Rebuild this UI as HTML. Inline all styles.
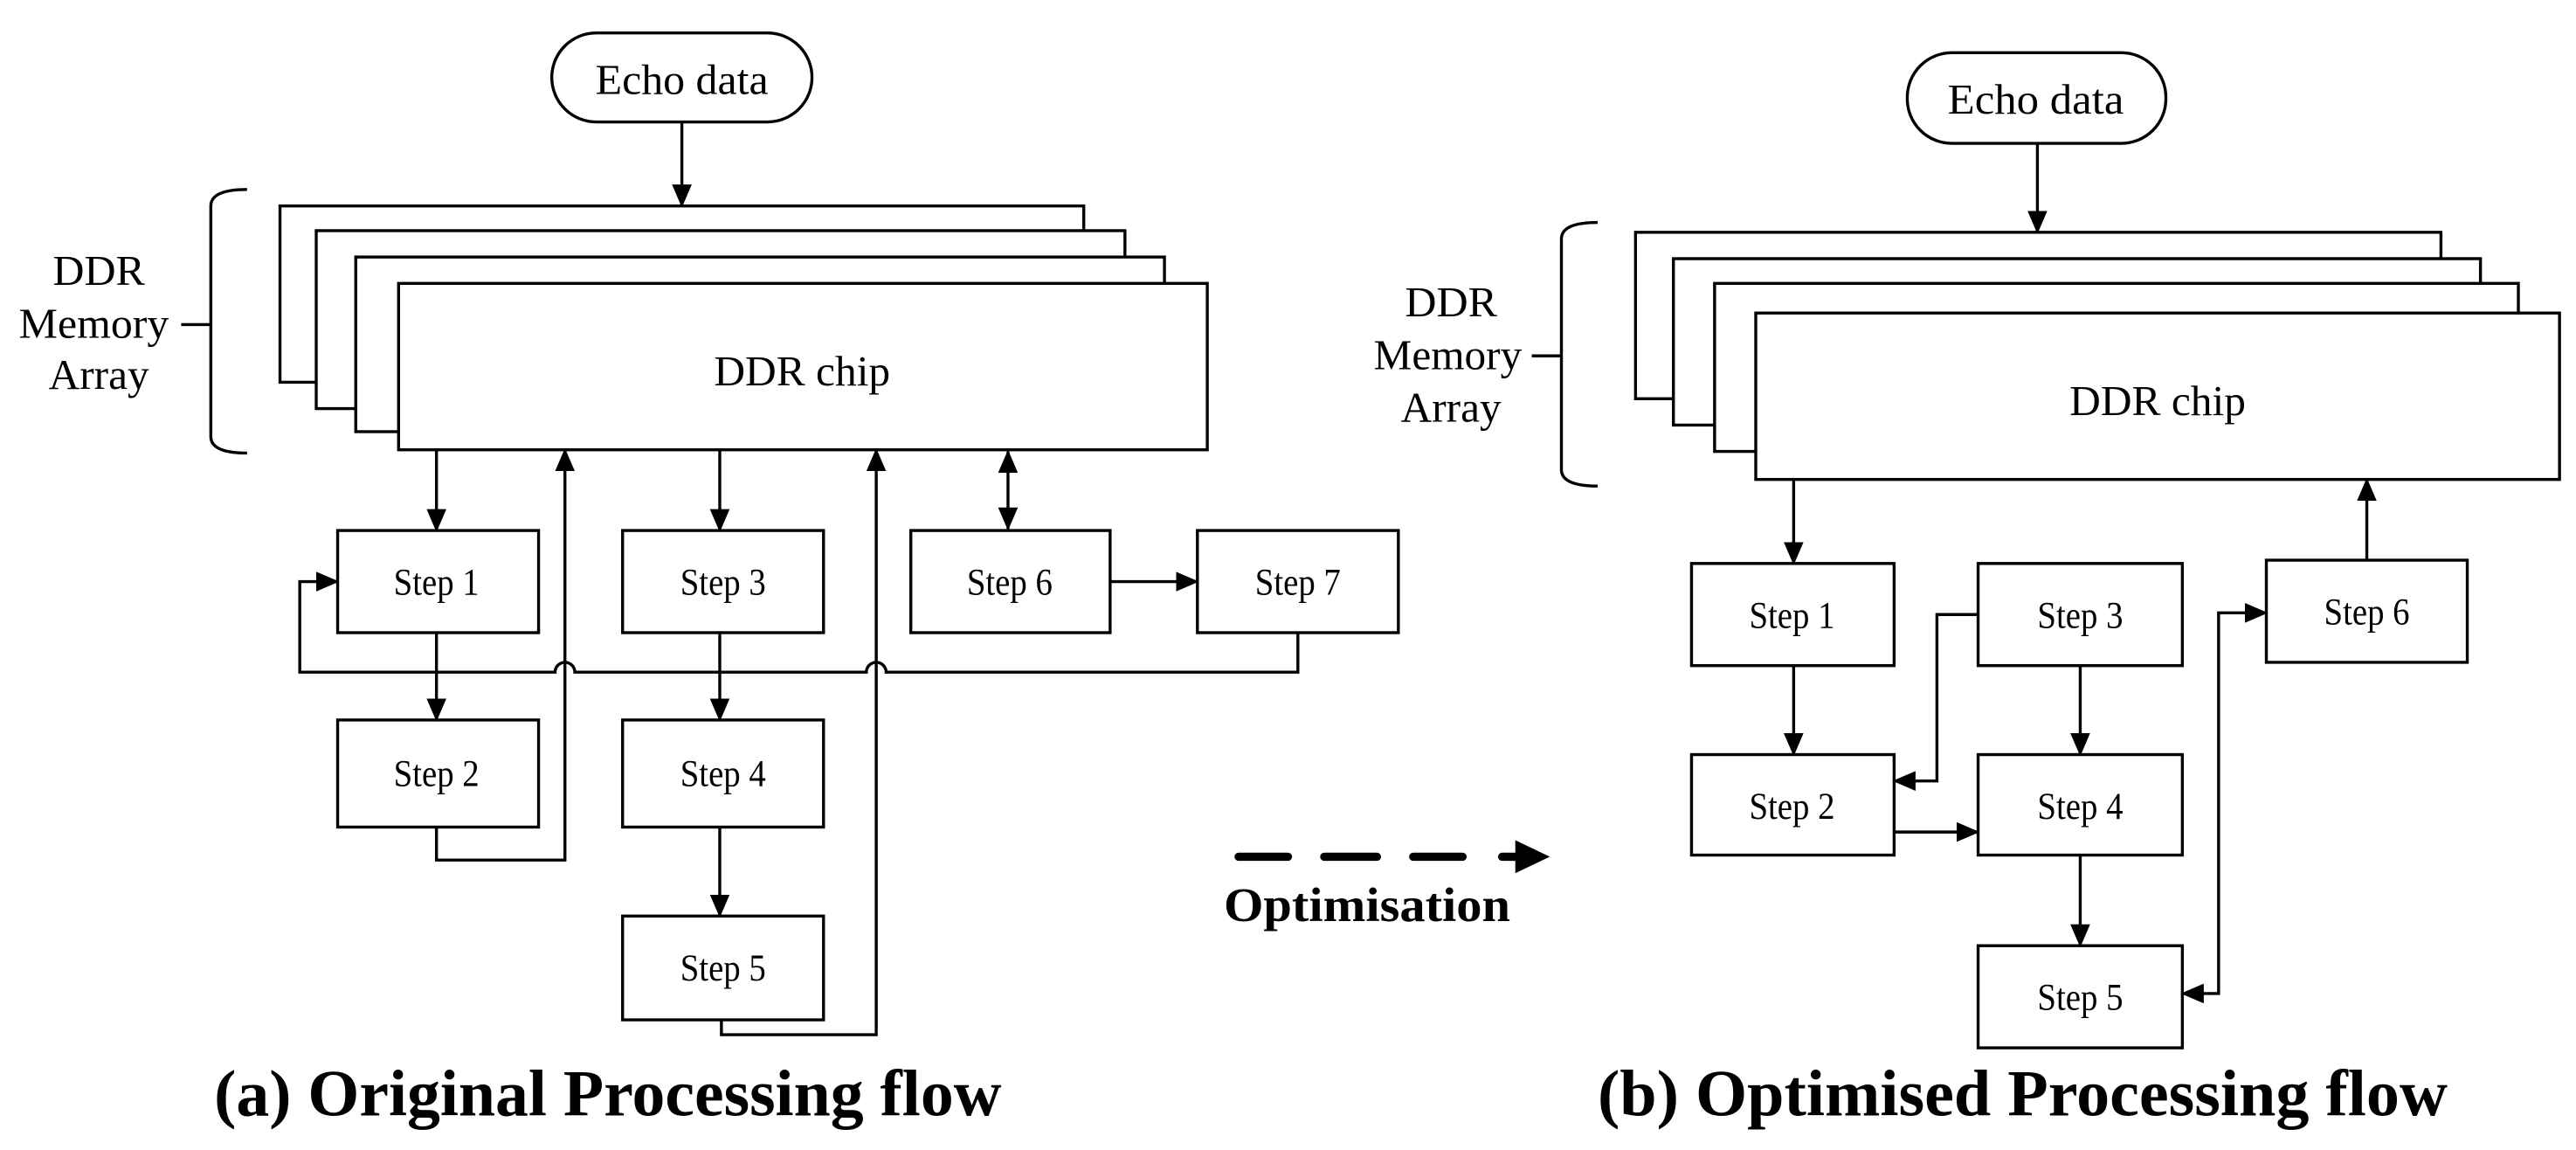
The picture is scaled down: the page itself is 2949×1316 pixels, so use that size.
<!DOCTYPE html>
<html><head><meta charset="utf-8"><style>html,body{margin:0;padding:0;background:#fff}svg{display:block}</style></head>
<body>
<svg xmlns="http://www.w3.org/2000/svg" width="2949" height="1316" viewBox="0 0 1564 698" preserveAspectRatio="none" font-family="Liberation Serif, serif">
<defs>
<marker id="a" markerWidth="14" markerHeight="12" refX="13" refY="6" orient="auto" markerUnits="userSpaceOnUse"><path d="M0,0 L14,6 L0,12 z" fill="#000"/></marker>
<marker id="s" markerWidth="14" markerHeight="12" refX="1" refY="6" orient="auto" markerUnits="userSpaceOnUse"><path d="M14,0 L0,6 L14,12 z" fill="#000"/></marker>
</defs>
<g fill="#fff" stroke="#000" stroke-width="1.8">
<rect x="335" y="20" width="158" height="54" rx="27"/>
<rect x="170" y="125" width="488" height="107"/>
<rect x="192" y="140" width="491" height="108"/>
<rect x="216" y="156" width="491" height="106"/>
<rect x="242" y="172" width="491" height="101"/>
<rect x="205" y="322" width="122" height="62"/>
<rect x="378" y="322" width="122" height="62"/>
<rect x="553" y="322" width="121" height="62"/>
<rect x="727" y="322" width="122" height="62"/>
<rect x="205" y="437" width="122" height="65"/>
<rect x="378" y="437" width="122" height="65"/>
<rect x="378" y="556" width="122" height="63"/>
<rect x="1158" y="32" width="157" height="55" rx="27"/>
<rect x="993" y="141" width="489" height="101"/>
<rect x="1016" y="157" width="490" height="101"/>
<rect x="1041" y="172" width="488" height="102"/>
<rect x="1066" y="190" width="488" height="101"/>
<rect x="1027" y="342" width="123" height="62"/>
<rect x="1201" y="342" width="124" height="62"/>
<rect x="1376" y="340" width="122" height="62"/>
<rect x="1027" y="458" width="123" height="61"/>
<rect x="1201" y="458" width="124" height="61"/>
<rect x="1201" y="574" width="124" height="62"/>
</g>
<g fill="none" stroke="#000" stroke-width="1.8">
<path d="M150,115 Q128,115 128,125 L128,265 Q128,275 150,275"/>
<line x1="110" y1="197" x2="128" y2="197"/>
<path d="M970,135 Q948,135 948,145 L948,285 Q948,295 970,295"/>
<line x1="930" y1="216" x2="948" y2="216"/>
<line x1="414" y1="74" x2="414" y2="125" marker-end="url(#a)"/>
<line x1="265" y1="273" x2="265" y2="322" marker-end="url(#a)"/>
<line x1="437" y1="273" x2="437" y2="322" marker-end="url(#a)"/>
<line x1="612" y1="274" x2="612" y2="321" marker-start="url(#s)" marker-end="url(#a)"/>
<line x1="674" y1="353" x2="727" y2="353" marker-end="url(#a)"/>
<line x1="265" y1="384" x2="265" y2="437" marker-end="url(#a)"/>
<line x1="437" y1="384" x2="437" y2="437" marker-end="url(#a)"/>
<line x1="437" y1="502" x2="437" y2="556" marker-end="url(#a)"/>
<path d="M265,502 L265,522 L343,522 L343,273" marker-end="url(#a)"/>
<path d="M438,619 L438,628 L532,628 L532,273" marker-end="url(#a)"/>
<path d="M788,384 L788,408 L538,408 A6,6 0 0 0 526,408 L349,408 A6,6 0 0 0 337,408 L182,408 L182,353 L205,353" marker-end="url(#a)"/>
<path d="M752,520 H782 M804,520 H836 M858,520 H888 M912,520 H921" stroke-width="5" stroke-linecap="round"/>
<line x1="1237" y1="87" x2="1237" y2="141" marker-end="url(#a)"/>
<line x1="1089" y1="291" x2="1089" y2="342" marker-end="url(#a)"/>
<line x1="1089" y1="404" x2="1089" y2="458" marker-end="url(#a)"/>
<line x1="1263" y1="404" x2="1263" y2="458" marker-end="url(#a)"/>
<line x1="1263" y1="519" x2="1263" y2="574" marker-end="url(#a)"/>
<line x1="1150" y1="505" x2="1201" y2="505" marker-end="url(#a)"/>
<path d="M1201,373 L1176,373 L1176,474 L1150,474" marker-end="url(#a)"/>
<path d="M1325,603 L1347,603 L1347,372 L1376,372" marker-start="url(#s)" marker-end="url(#a)"/>
<line x1="1437" y1="340" x2="1437" y2="291" marker-end="url(#a)"/>
</g>
<path d="M920,510 L941,520 L920,530 z" fill="#000"/>
<g font-size="26" text-anchor="middle" fill="#000">
<text x="414" y="57" textLength="105" lengthAdjust="spacingAndGlyphs">Echo data</text>
<text x="487" y="234" textLength="107" lengthAdjust="spacingAndGlyphs">DDR chip</text>
<text x="60" y="173" textLength="56" lengthAdjust="spacingAndGlyphs">DDR</text>
<text x="57" y="205" textLength="91" lengthAdjust="spacingAndGlyphs">Memory</text>
<text x="60" y="236" textLength="61" lengthAdjust="spacingAndGlyphs">Array</text>
<text x="1236" y="69" textLength="107" lengthAdjust="spacingAndGlyphs">Echo data</text>
<text x="1310" y="252" textLength="107" lengthAdjust="spacingAndGlyphs">DDR chip</text>
<text x="881" y="192" textLength="56" lengthAdjust="spacingAndGlyphs">DDR</text>
<text x="879" y="224" textLength="90" lengthAdjust="spacingAndGlyphs">Memory</text>
<text x="881" y="256" textLength="61" lengthAdjust="spacingAndGlyphs">Array</text>
</g>
<g font-size="23" text-anchor="middle" fill="#000">
<text x="265" y="361" textLength="52" lengthAdjust="spacingAndGlyphs">Step 1</text>
<text x="439" y="361" textLength="52" lengthAdjust="spacingAndGlyphs">Step 3</text>
<text x="613" y="361" textLength="52" lengthAdjust="spacingAndGlyphs">Step 6</text>
<text x="788" y="361" textLength="52" lengthAdjust="spacingAndGlyphs">Step 7</text>
<text x="265" y="477" textLength="52" lengthAdjust="spacingAndGlyphs">Step 2</text>
<text x="439" y="477" textLength="52" lengthAdjust="spacingAndGlyphs">Step 4</text>
<text x="439" y="595" textLength="52" lengthAdjust="spacingAndGlyphs">Step 5</text>
<text x="1088" y="381" textLength="52" lengthAdjust="spacingAndGlyphs">Step 1</text>
<text x="1263" y="381" textLength="52" lengthAdjust="spacingAndGlyphs">Step 3</text>
<text x="1437" y="379" textLength="52" lengthAdjust="spacingAndGlyphs">Step 6</text>
<text x="1088" y="497" textLength="52" lengthAdjust="spacingAndGlyphs">Step 2</text>
<text x="1263" y="497" textLength="52" lengthAdjust="spacingAndGlyphs">Step 4</text>
<text x="1263" y="613" textLength="52" lengthAdjust="spacingAndGlyphs">Step 5</text>
</g>
<g font-weight="bold" fill="#000">
<text x="743" y="559" font-size="29" textLength="174" lengthAdjust="spacingAndGlyphs">Optimisation</text>
<text x="130" y="677" font-size="40" textLength="478" lengthAdjust="spacingAndGlyphs">(a) Original Processing flow</text>
<text x="970" y="677" font-size="40" textLength="516" lengthAdjust="spacingAndGlyphs">(b) Optimised Processing flow</text>
</g>
</svg>
</body></html>
